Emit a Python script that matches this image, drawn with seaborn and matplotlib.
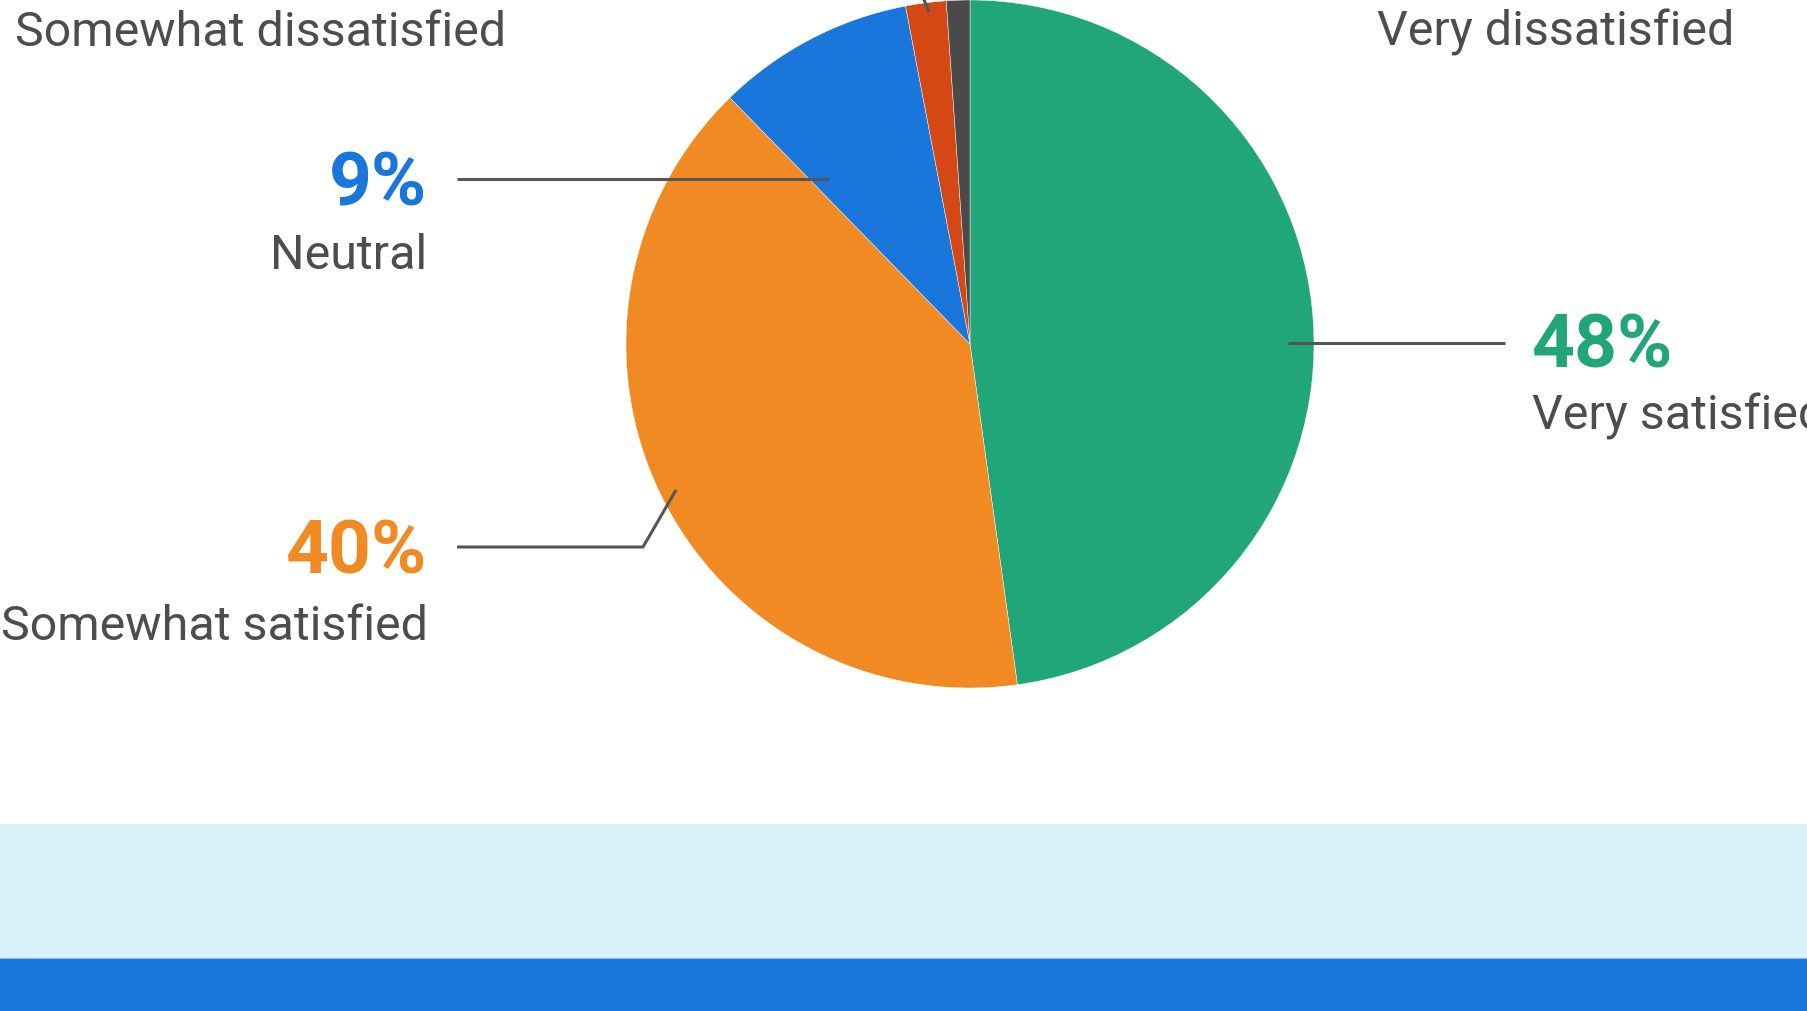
import numpy as np
import matplotlib
matplotlib.use("Agg")
import matplotlib.pyplot as plt
import seaborn as sns

# survey answers (percent)
categories = ["Very satisfied", "Somewhat satisfied", "Neutral",
              "Somewhat dissatisfied", "Very dissatisfied"]
shares = [47.8, 39.9, 9.3, 1.9, 1.1]
colors = ["#21A67A", "#F18A22", "#1976DB", "#D44816", "#4A4A4A"]

sns.set_theme(style="white")
plt.rcParams["font.family"] = ["Roboto", "DejaVu Sans"]

W, H = 1808, 1011
fig = plt.figure(figsize=(W / 100, H / 100), dpi=100)
ax = fig.add_axes([0, 0, 1, 1])

# y axis is flipped below, so counterclock=True runs clockwise on screen
cx, cy, R = 970, 344, 344
ax.pie(shares, colors=colors, startangle=-90, counterclock=True,
       center=(cx, cy), radius=R,
       wedgeprops=dict(edgecolor="white", linewidth=0.3))

ax.set_xlim(0, W)
ax.set_ylim(H, 0)
ax.set_aspect("equal")
ax.axis("off")

# bottom bands
ax.axhspan(824, 958, color="#DAF1FB", zorder=0)
ax.axhspan(957.5, 959.5, color="#A9D2F3", zorder=0)
ax.axhspan(959, H, color="#1976DB", zorder=0)

gray = "#4D4D4D"
line_kw = dict(color="#555555", lw=2.2, solid_capstyle="butt", zorder=5)

# leader lines
ax.plot([1288, 1505], [343, 343], **line_kw)
ax.plot([457, 829], [179, 179], **line_kw)
ax.plot([457, 643, 676], [547, 547, 490], **line_kw)
ax.plot([929, 920], [12, -10], **line_kw)

pct_kw = dict(fontsize=54, fontweight="bold", va="baseline")
lab_kw = dict(fontsize=34.8, color=gray, va="baseline")

labels = [f"{v:.0f}%" for v in shares]

ax.text(1532, 367, labels[0], color=colors[0], ha="left", **pct_kw)
ax.text(1532, 429, categories[0], ha="left", **lab_kw)

ax.text(427, 573, labels[1], color=colors[1], ha="right", **pct_kw)
ax.text(428, 640, categories[1], ha="right", **lab_kw)

ax.text(427, 205, labels[2], color=colors[2], ha="right", **pct_kw)
ax.text(427, 269, categories[2], ha="right", **lab_kw)

ax.text(15, 46, categories[3], ha="left", **lab_kw)
ax.text(1734, 46, categories[4], ha="right", **lab_kw)

fig.savefig("out.png", dpi=100)
